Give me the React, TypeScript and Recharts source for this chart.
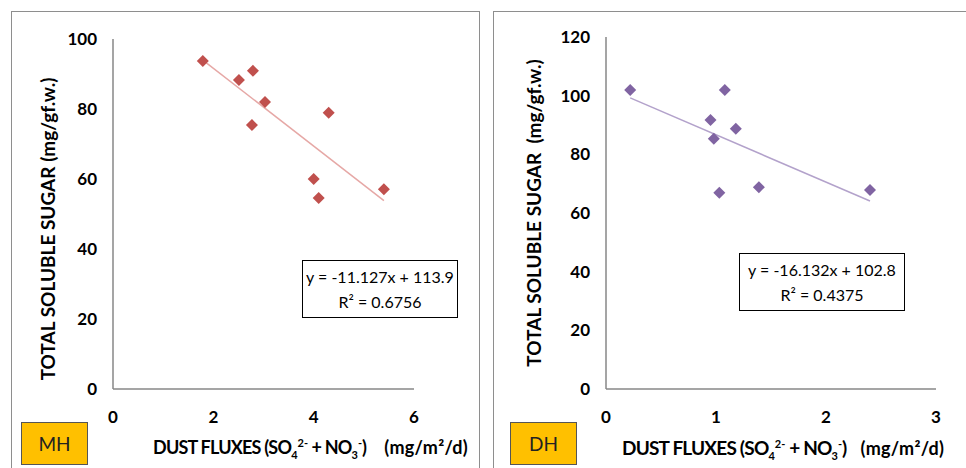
import { ScatterChart, Scatter, XAxis, YAxis } from 'recharts';

// MH site
const mhFlux = [1.79, 2.51, 2.79, 3.03, 2.77, 4.3, 4.0, 4.1, 5.4];
const mhSugar = [93.7, 88.3, 90.9, 82.0, 75.4, 78.9, 60.0, 54.6, 57.1];
const mhXTicks = [0, 2, 4, 6];
const mhYTicks = [0, 20, 40, 60, 80, 100];
const mhFit = [-11.127, 113.9];

// DH site
const dhFlux = [0.22, 1.08, 0.95, 1.18, 0.98, 1.03, 1.39, 2.4];
const dhSugar = [101.9, 101.9, 91.7, 88.7, 85.3, 66.9, 68.8, 67.8];
const dhXTicks = [0, 1, 2, 3];
const dhYTicks = [0, 20, 40, 60, 80, 100, 120];
const dhFit = [-16.132, 102.8];

const FONT = 'Lato, "Open Sans", sans-serif';
const AXIS = '#878787';

const Diamond = (props: any) => {
  const { cx, cy, fill } = props;
  const r = 6;
  return <path d={`M${cx},${cy - r}L${cx + r},${cy}L${cx},${cy + r}L${cx - r},${cy}Z`} fill={fill} />;
};

function Panel(p: any) {
  const pts = p.xs.map((x: number, i: number) => ({ x, y: p.ys[i] }));
  const lo = Math.min(...p.xs);
  const hi = Math.max(...p.xs);
  const trend = [lo, hi].map((x) => ({ x, y: p.fit[0] * x + p.fit[1] }));
  const tick = { fill: '#000', fontSize: 17, fontWeight: 700, fontFamily: FONT };
  const small = { fontSize: 11, letterSpacing: 0 };
  return (
    <div style={{ position: 'absolute', left: p.left, top: 0, width: 483, height: 468 }}>
      <div style={{ position: 'absolute', left: p.border[0], top: 11, width: p.border[1], height: 470, border: '1.5px solid #8e8e8e', borderBottom: 'none' }} />
      <div style={{ position: 'absolute', left: 0, top: 0 }}>
        <ScatterChart width={483} height={468} margin={p.margin}>
          <XAxis type="number" dataKey="x" domain={[p.xTicks[0], p.xTicks[p.xTicks.length - 1]]} ticks={p.xTicks}
            stroke={AXIS} strokeWidth={1.5} tickLine={false} tickSize={0} tickMargin={22} tick={tick} height={30} />
          <YAxis type="number" dataKey="y" domain={[0, p.yTicks[p.yTicks.length - 1]]} ticks={p.yTicks}
            stroke={AXIS} strokeWidth={1.5} tickLine={false} tickSize={0} tickMargin={16} tick={tick} width={40} />
          <Scatter data={trend} line={{ stroke: p.lineColor, strokeWidth: 1.5 }} shape={() => null} isAnimationActive={false} />
          <Scatter data={pts} fill={p.color} shape={<Diamond />} isAnimationActive={false} />
        </ScatterChart>
      </div>
      <div style={{ position: 'absolute', left: p.ylab[0], top: p.ylab[1], width: 0, height: 0 }}>
        <div style={{ position: 'absolute', transform: 'translate(-50%,-50%) rotate(-90deg)', whiteSpace: 'pre', fontFamily: FONT, fontWeight: 700, fontSize: 19 }}>
          {p.yLabel}
        </div>
      </div>
      <div style={{ position: 'absolute', left: p.xlab[0], top: p.xlab[1], whiteSpace: 'pre', fontFamily: FONT, fontWeight: 700, fontSize: p.xFont, letterSpacing: -0.8 }}>
        DUST FLUXES (SO<sub style={small}>4</sub><sup style={small}>2-</sup> + NO<sub style={small}>3</sub><sup style={small}>-</sup>)
        <span style={{ fontSize: 18, letterSpacing: 0.3, marginLeft: p.unitGap }}>(mg/m²/d)</span>
      </div>
      <div style={{ position: 'absolute', left: p.tag[0], top: 422, width: 67, height: 43, background: '#FFC000', border: '1.5px solid #555', boxSizing: 'border-box',
        display: 'flex', alignItems: 'center', justifyContent: 'center', fontFamily: FONT, fontSize: 19, color: '#222' }}>
        {p.name}
      </div>
      <div style={{ position: 'absolute', left: p.eq[0], top: p.eq[1], width: p.eq[2], height: 58, border: '1.5px solid #000', boxSizing: 'border-box',
        display: 'flex', flexDirection: 'column', justifyContent: 'center', alignItems: 'center', fontFamily: FONT, fontSize: 16, lineHeight: '25px', color: '#000' }}>
        <div>{p.eqText}</div>
        <div>R² = {p.r2}</div>
      </div>
    </div>
  );
}

export default function App() {
  return (
    <div style={{ position: 'absolute', left: 0, top: 0, width: 966, height: 468, background: '#fff', overflow: 'hidden' }}>
      <Panel left={0} border={[11, 467]} margin={{ top: 39, right: 69, bottom: 49, left: 73 }}
        xs={mhFlux} ys={mhSugar} xTicks={mhXTicks} yTicks={mhYTicks} fit={mhFit}
        color="#C0504D" lineColor="#E6A8A6" name="MH" tag={[21]} eq={[302, 260, 156]}
        eqText="y = -11.127x + 113.9" r2="0.6756" ylab={[47, 229]} xlab={[153, 436]} xFont={18} unitGap={18}
        yLabel="TOTAL SOLUBLE SUGAR (mg/gf.w.)" />
      <Panel left={483} border={[10, 473]} margin={{ top: 37, right: 30, bottom: 49, left: 83 }}
        xs={dhFlux} ys={dhSugar} xTicks={dhXTicks} yTicks={dhYTicks} fit={dhFit}
        color="#8064A2" lineColor="#B3A2CB" name="DH" tag={[27]} eq={[256, 253, 166]}
        eqText="y = -16.132x + 102.8" r2="0.4375" ylab={[50, 213]} xlab={[139, 436]} xFont={19} unitGap={14}
        yLabel="TOTAL SOLUBLE SUGAR  (mg/gf.w.)" />
    </div>
  );
}
